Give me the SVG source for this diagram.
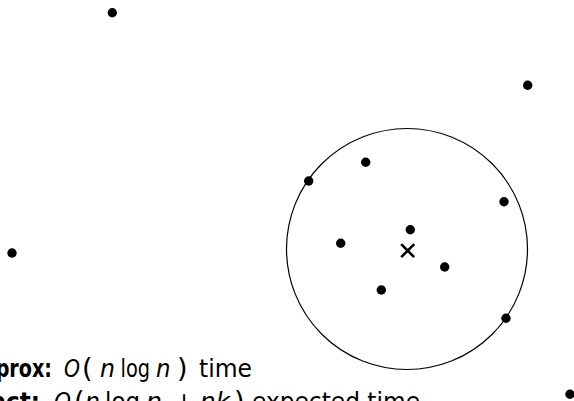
<svg xmlns="http://www.w3.org/2000/svg" width="574" height="401" viewBox="0 0 574 401">
<style>
.pt{fill:#000}
.t{font-family:"DejaVu Sans","Liberation Sans",sans-serif;font-size:24px;fill:#000}
.b{font-weight:bold}
.i{font-style:italic}
.p{font-size:27px}
</style>
<rect width="574" height="401" fill="#fff"/>
<g id="circle"><circle cx="407" cy="249" r="120.5" fill="none" stroke="#000" stroke-width="1.2"/></g>
<g id="center"><path d="M401.2,244.2L414.2,257.2M414.2,244.2L401.2,257.2" stroke="#000" stroke-width="2.6" fill="none"/></g>
<g id="points">
<circle class="pt" cx="112.3" cy="12.7" r="4.7"/>
<circle class="pt" cx="527.7" cy="85.3" r="4.7"/>
<circle class="pt" cx="365.7" cy="162.3" r="4.7"/>
<circle class="pt" cx="308.7" cy="181" r="4.7"/>
<circle class="pt" cx="504" cy="201.7" r="4.7"/>
<circle class="pt" cx="410.3" cy="229.7" r="4.7"/>
<circle class="pt" cx="340.7" cy="243.3" r="4.7"/>
<circle class="pt" cx="444.7" cy="267" r="4.7"/>
<circle class="pt" cx="381.3" cy="290" r="4.7"/>
<circle class="pt" cx="506" cy="318.3" r="4.7"/>
<circle class="pt" cx="12" cy="253" r="4.7"/>
<circle class="pt" cx="570" cy="394.3" r="4.7"/>
</g>
<g id="line1" class="t">
<text x="52" y="377" text-anchor="end" class="b" textLength="83" lengthAdjust="spacingAndGlyphs">approx:</text>
<text x="64" y="377" class="i" textLength="16" lengthAdjust="spacingAndGlyphs">O</text>
<text x="82" y="377" class="p">(</text>
<text x="100" y="377" class="i" textLength="15" lengthAdjust="spacingAndGlyphs">n</text>
<text x="120.5" y="377" textLength="29.5" lengthAdjust="spacingAndGlyphs">log</text>
<text x="156" y="377" class="i" textLength="14.5" lengthAdjust="spacingAndGlyphs">n</text>
<text x="177" y="377" class="p">)</text>
<text x="199" y="377" textLength="53" lengthAdjust="spacingAndGlyphs">time</text>
</g>
<g id="line2" class="t">
<text x="40" y="410" text-anchor="end" class="b" textLength="80" lengthAdjust="spacingAndGlyphs">exact:</text>
<text x="54" y="410" class="i" textLength="17" lengthAdjust="spacingAndGlyphs">O</text>
<text x="74" y="410" class="p">(</text>
<text x="85" y="410" class="i" textLength="15" lengthAdjust="spacingAndGlyphs">n</text>
<text x="105" y="410" textLength="35" lengthAdjust="spacingAndGlyphs">log</text>
<text x="146" y="410" class="i" textLength="16" lengthAdjust="spacingAndGlyphs">n</text>
<text x="174" y="410">+</text>
<text x="200" y="410" class="i" textLength="30" lengthAdjust="spacingAndGlyphs">nk</text>
<text x="234" y="410" class="p">)</text>
<text x="252" y="410" textLength="168" lengthAdjust="spacingAndGlyphs">expected time</text>
</g>
</svg>
